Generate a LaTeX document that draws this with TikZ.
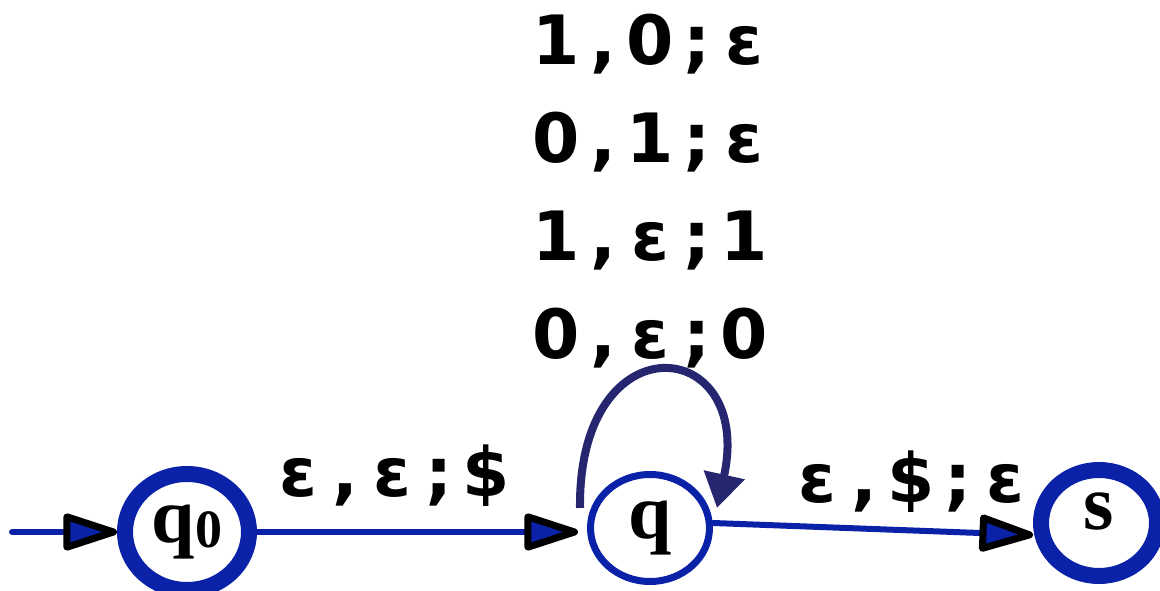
\documentclass[tikz,border=0pt]{standalone}
\usepackage{fontspec}
\setmainfont{Liberation Serif}
\newfontfamily\lblfont{DejaVu Sans}
\usetikzlibrary{arrows.meta,shapes.geometric}

\definecolor{statering}{HTML}{0A22A8}
\definecolor{loopline}{HTML}{252570}

% every character of a transition label in a cell of its own
\def\cells#1{\cellsloop#1\relax}
\def\cellsloop#1{\ifx#1\relax\else\makebox[47pt]{#1}\expandafter\cellsloop\fi}

\begin{document}
\begin{tikzpicture}[
  x=1pt, y=1pt,
  line cap=round, line join=round,
  state/.style={ellipse, draw=statering, fill=white, inner sep=0pt, font=\fontsize{78}{78}\selectfont\bfseries},
  accepting/.style={line width=16pt},
  plain/.style={line width=7pt},
  edge/.style={draw=statering, line width=6pt, -{Triangle[length=62pt, width=38pt, color=black, fill=statering, line width'=7pt, round]}},
  selfloop/.style={draw=loopline, line width=8pt, line cap=butt, -{Triangle[length=34pt, width=40pt]}},
  trans/.style={font=\lblfont\bfseries\fontsize{68}{98}\selectfont, inner sep=0pt},
]
\useasboundingbox (0,0) rectangle (1160,591);

\node[state, accepting, minimum width=124pt, minimum height=116pt] (q0) at (187,59) {q\raisebox{-5pt}{\fontsize{54}{54}\selectfont 0}};
\node[state, plain, minimum width=119pt, minimum height=107pt] (q) at (650,63) {q};
\node[state, accepting, minimum width=116pt, minimum height=106pt, text depth=23pt] (s) at (1099,68) {s};

\coordinate (entry) at (12,59);
\draw[edge] (entry) -- (q0);
\draw[edge, shorten >=9pt] (q0.east) -- (q0.east -| q.west);
\draw[edge] ([yshift=5pt]q.east) -- ([yshift=-12pt]s.west);
\draw[selfloop] ([shift={(-70,20)}]q.center) .. controls +(-2,190) and +(38,173) .. ([shift={(67,20)}]q.center);

\node[trans, anchor=base] (l01) at (392,94) {\cells{ε,ε;\$}};
\node[trans, anchor=base] (l12) at (911,88) {\cells{ε,\$;ε}};
\node[trans, align=center] (l11) at (650,400) {\cells{1,0;ε}\\\cells{0,1;ε}\\\cells{1,ε;1}\\\cells{0,ε;0}};
\end{tikzpicture}
\end{document}
